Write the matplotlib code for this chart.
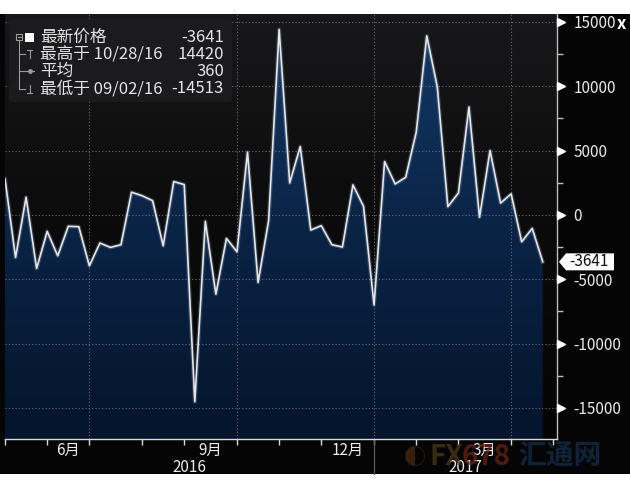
import numpy as np
import pandas as pd
import matplotlib
matplotlib.use("Agg")
import matplotlib.pyplot as plt
import matplotlib.dates as mdates
import matplotlib.transforms as mtransforms
from matplotlib.colors import LinearSegmentedColormap
from matplotlib.patches import FancyBboxPatch, Polygon, Rectangle
from matplotlib.lines import Line2D

plt.rcParams['font.family'] = ['Noto Sans CJK SC', 'DejaVu Sans']

# ---------------- data ----------------
start_date = "2016-04-29"
values = [2800, -3300, 1380, -4150, -1270, -3170, -880, -910, -3950, -2180,
          -2520, -2310, 1770, 1500, 1110, -2390, 2600, 2360, -14513, -490,
          -6150, -1820, -2860, 4880, -5240, -440, 14420, 2490, 5320, -1170,
          -830, -2310, -2490, 2340, 680, -6990, 4150, 2410, 2930, 6440,
          13920, 9950, 650, 1710, 8390, -180, 5010, 930, 1640, -2080,
          -1040, -3641]
month_labels = {6: "6月", 9: "9月", 12: "12月", 3: "3月"}
year_labels = ["2016", "2017"]
legend_rows = [("最新价格", "-3641"), ("最高于 10/28/16", "14420"),
               ("平均", "360"), ("最低于 09/02/16", "-14513")]
last_label = "-3641"
ytick_vals = [15000, 10000, 5000, 0, -5000, -10000, -15000]

W, H = 630, 490
fig = plt.figure(figsize=(W / 100, H / 100), dpi=100, facecolor="white")

def fx(x):
    return x / W

def fy(y):
    return 1 - y / H

# black chart body
fig.add_artist(Rectangle((0, fy(474)), 1, fy(14) - fy(474), transform=fig.transFigure,
                         facecolor="#050505", edgecolor="none", zorder=0))

ax_l, ax_r, ax_t, ax_b = 5, 557, 14, 439
ax = fig.add_axes([fx(ax_l), fy(ax_b), fx(ax_r) - fx(ax_l), fy(ax_t) - fy(ax_b)])
ax.set_facecolor("#050505")

dates = pd.date_range(start_date, periods=len(values), freq="W-FRI")
tick_range = pd.date_range(start_date, periods=len(values) + 1, freq="W-FRI")
x = mdates.date2num(dates)
vals = np.array(values, dtype=float)

x0 = x[0]
x1 = x[0] + 52.35 * 7
y0, y1 = -17410, 15620

# background gradient
bg_cmap = LinearSegmentedColormap.from_list("bg", ["#040404", "#0b0b0c", "#18181a"])
grad = np.linspace(0, 1, 256).reshape(-1, 1)
ax.imshow(grad, extent=[x0, x1, y0, y1], origin="lower", aspect="auto",
          cmap=bg_cmap, zorder=0)

# gradient area fill
fill_cmap = LinearSegmentedColormap.from_list("fill", ["#04152c", "#0a2446", "#143a66"])
poly = ax.fill_between(x, vals, y0, facecolor="none", edgecolor="none")
im = ax.imshow(grad, extent=[x0, x1, y0, y1], origin="lower", aspect="auto",
               cmap=fill_cmap, zorder=1)
im.set_clip_path(poly.get_paths()[0], transform=ax.transData)

# line with glow
ax.plot(x, vals, color="#9fb3cc", lw=3.0, alpha=0.25, zorder=3)
ax.plot(x, vals, color="#e4e6ea", lw=1.2, zorder=4)

ax.set_xlim(x0, x1)
ax.set_ylim(y0, y1)

# month ends
s = pd.Series(tick_range)
month_ends = s.groupby([s.dt.year, s.dt.month]).max().tolist()
me_num = mdates.date2num(month_ends)

# grid
for v in ytick_vals:
    ax.axhline(v, color="#6d6d70", lw=0.8, ls=(0, (1, 2)), zorder=2)
for d, n in zip(month_ends, me_num):
    if d.month in (3, 6, 9, 12):
        ax.axvline(n, color="#6d6d70", lw=0.8, ls=(0, (1, 2)), zorder=2)

# spines
for sp in ["top", "left"]:
    ax.spines[sp].set_visible(False)
ax.spines["bottom"].set_color("#d8d8d8")
ax.spines["right"].set_color("#bdbdbd")
ax.spines["bottom"].set_linewidth(1.0)
ax.spines["right"].set_linewidth(1.0)

# x ticks
ax.set_xticks(me_num)
ax.set_xticklabels([])
ax.tick_params(axis="x", direction="out", length=4, width=1, color="#d8d8d8")

# y ticks on right
ax.yaxis.tick_right()
ax.set_yticks(ytick_vals)
ax.set_yticklabels([str(v) for v in ytick_vals])
ax.set_yticks([12500, 7500, 2500, -2500, -7500, -12500], minor=True)
ax.tick_params(axis="y", which="major", length=0, pad=12, labelsize=11,
               labelcolor="#e8e8e8")
ax.tick_params(axis="y", which="minor", direction="out", length=4, width=1,
               color="#bdbdbd")
tr = mtransforms.blended_transform_factory(ax.transAxes, ax.transData)
ax.plot([1.0075] * len(ytick_vals), ytick_vals, ls="none", marker=">", ms=6,
        color="white", transform=tr, clip_on=False, zorder=6)

# watermark (behind axis labels)
fig.text(fx(415), fy(457), "◐", fontsize=16, color="#6a3a1a", alpha=0.5,
         ha="center", va="center", zorder=1)
fig.text(fx(430), fy(457), "FX", fontsize=20, fontweight="bold", color="#4e3c14",
         alpha=0.7, ha="left", va="center", zorder=1)
fig.text(fx(462), fy(457), "678", fontsize=20, fontweight="bold", color="#6e2612",
         alpha=0.7, ha="left", va="center", zorder=1)
fig.text(fx(518), fy(457), "汇通网", fontsize=20, fontweight="bold", color="#142a46",
         alpha=0.8, ha="left", va="center", zorder=1)

# month / year labels
trx = mtransforms.blended_transform_factory(ax.transData, ax.transAxes)
for i in range(1, len(month_ends)):
    m = month_ends[i].month
    if m in month_labels:
        xm = (me_num[i - 1] + me_num[i]) / 2
        ax.text(xm, -0.027, month_labels[m], transform=trx, ha="center", va="center",
                fontsize=11, color="#ececec", zorder=10)
dec_end = [n for d, n in zip(month_ends, me_num) if d.month == 12][0]
ax.text((x0 + dec_end) / 2, -0.067, year_labels[0], transform=trx, ha="center",
        va="center", fontsize=11, color="#ececec", zorder=10)
ax.text((dec_end + x1) / 2, -0.067, year_labels[1], transform=trx, ha="center",
        va="center", fontsize=11, color="#ececec", zorder=10)
ax.plot([dec_end, dec_end], [0, -35 / 425], color="#5a5a5a", lw=0.9,
        transform=trx, clip_on=False)

# legend box
fig.add_artist(FancyBboxPatch((fx(9), fy(102)), fx(232) - fx(9), fy(19) - fy(102),
                              boxstyle="round,pad=0,rounding_size=0.006",
                              transform=fig.transFigure, facecolor="#1c1c1e",
                              edgecolor="none", alpha=0.95, zorder=5))
row_y = [37.5, 54.5, 71.5, 88.5]
for (lab, val), yy in zip(legend_rows, row_y):
    fig.text(fx(40), fy(yy), lab, fontsize=12, color="#e4e4e4", ha="left",
             va="center", zorder=7)
    fig.text(fx(224), fy(yy), val, fontsize=12, color="#e4e4e4", ha="right",
             va="center", zorder=7)
# tree icons
lc = "#9a9a9a"
fig.add_artist(Rectangle((fx(16), fy(40)), fx(6), fy(34) - fy(40), transform=fig.transFigure,
                         facecolor="none", edgecolor=lc, lw=0.8, zorder=7))
fig.add_artist(Line2D([fx(17.5), fx(20.5)], [fy(37), fy(37)], color=lc, lw=0.8, zorder=7))
fig.add_artist(Line2D([fx(19), fx(19)], [fy(40), fy(89)], color=lc, lw=0.8, zorder=7))
for yy in row_y[1:]:
    fig.add_artist(Line2D([fx(19), fx(25)], [fy(yy), fy(yy)], color=lc, lw=0.8, zorder=7))
fig.add_artist(Rectangle((fx(25), fy(42)), fx(9), fy(33) - fy(42), transform=fig.transFigure,
                         facecolor="white", edgecolor="none", zorder=7))
# T icon
fig.add_artist(Line2D([fx(27), fx(32)], [fy(50), fy(50)], color=lc, lw=0.8, zorder=7))
fig.add_artist(Line2D([fx(29.5), fx(29.5)], [fy(50), fy(58)], color=lc, lw=0.8, zorder=7))
# dot icon
fig.add_artist(Line2D([fx(25), fx(34)], [fy(71.5), fy(71.5)], color=lc, lw=0.8, zorder=7))
fig.add_artist(Line2D([fx(29.5)], [fy(71.5)], color=lc, marker="o", ms=2.5, zorder=7))
# bottom icon
fig.add_artist(Line2D([fx(27), fx(32)], [fy(93), fy(93)], color=lc, lw=0.8, zorder=7))
fig.add_artist(Line2D([fx(29.5), fx(29.5)], [fy(85), fy(93)], color=lc, lw=0.8, zorder=7))

# last value tag
yl = fy(215 + 3641 / 77.72)
hh = 8.5 / H
pts = [(fx(559), yl), (fx(566), yl + hh), (fx(614), yl + hh), (fx(614), yl - hh), (fx(566), yl - hh)]
fig.add_artist(Polygon(pts, closed=True, transform=fig.transFigure, facecolor="white",
                       edgecolor="none", zorder=8))
fig.text(fx(589), yl, last_label, fontsize=11, color="#111111", ha="center",
         va="center", zorder=9)

# close 'x'
fig.text(fx(621), fy(24), "x", fontsize=12, fontweight="bold", color="white",
         ha="center", va="center")

fig.savefig("out.png", dpi=100, facecolor="white")
